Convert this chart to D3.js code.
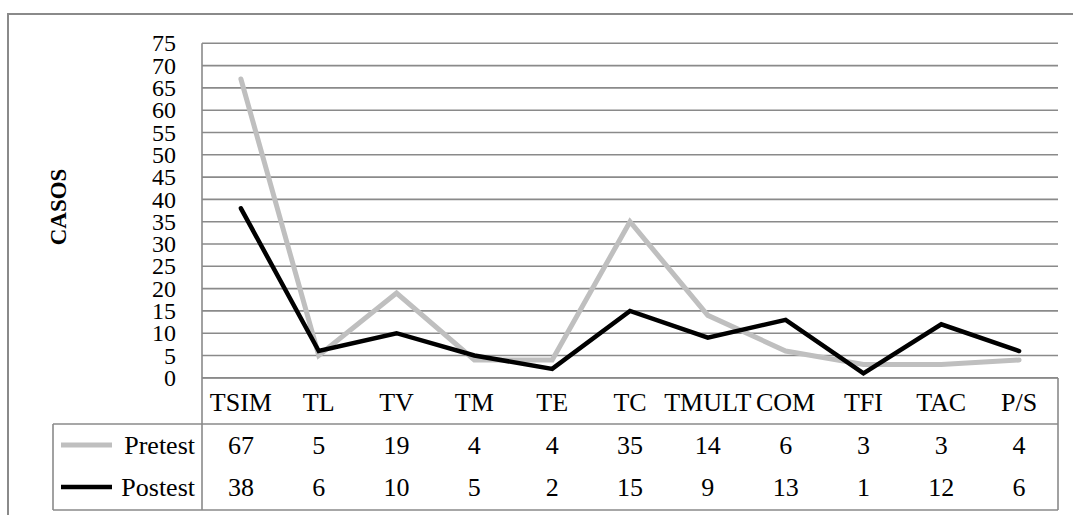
<!DOCTYPE html>
<html><head><meta charset="utf-8">
<script src="https://cdn.jsdelivr.net/npm/d3@7"></script>
<style>body{margin:0;background:#fff}svg{display:block}svg text{font-family:"Liberation Serif",Tinos,"Times New Roman",serif;fill:#000}</style>
</head><body>
<script>
const categories = ["TSIM","TL","TV","TM","TE","TC","TMULT","COM","TFI","TAC","P/S"];
const pretest = [67,5,19,4,4,35,14,6,3,3,4];
const postest = [38,6,10,5,2,15,9,13,1,12,6];
const yTicks = d3.range(0,80,5);
const seriesNames = ["Pretest","Postest"];
const seriesColors = ["#bfbfbf","#000000"];

const W=1073,H=515;
const FF="Liberation Serif";
const svg=d3.select("body").append("svg").attr("width",W).attr("height",H)
  .attr("font-family",FF);
const gridC="#8a8a8a";

svg.append("rect").attr("x",8).attr("y",14).attr("width",1080).attr("height",520)
  .attr("fill","none").attr("stroke",gridC).attr("stroke-width",2);

const L=202,R=1058,T=43.3,B=377.8;
const x=d3.scaleBand().domain(categories).range([L,R]);
const y=d3.scaleLinear().domain([0,75]).range([B,T]);

svg.append("g").selectAll("line").data(yTicks).join("line")
  .attr("x1",L).attr("x2",R).attr("y1",d=>y(d)).attr("y2",d=>y(d))
  .attr("stroke",gridC).attr("stroke-width",1.6);
svg.append("line").attr("x1",L).attr("x2",L).attr("y1",T).attr("y2",510).attr("stroke",gridC).attr("stroke-width",1.6);

svg.append("g").selectAll("text").data(yTicks).join("text")
  .attr("x",176).attr("y",d=>y(d)).attr("dy","0.34em").attr("text-anchor","end")
  .attr("font-size",24).text(d=>d);

svg.append("text").attr("transform","translate(66,207) rotate(-90)")
  .attr("text-anchor","middle").attr("font-weight","bold")
  .attr("font-size",23).text("CASOS");

const tl=[[L,378,R,378],[53,424,R,424],[53,510,R,510],[53,424,53,510],[R,378,R,510]];
svg.append("g").selectAll("line").data(tl).join("line")
  .attr("x1",d=>d[0]).attr("y1",d=>d[1]).attr("x2",d=>d[2]).attr("y2",d=>d[3])
  .attr("stroke",gridC).attr("stroke-width",1.6);

svg.append("g").selectAll("text").data(categories).join("text")
  .attr("x",d=>x(d)+x.bandwidth()/2).attr("y",402).attr("dy","0.35em")
  .attr("text-anchor","middle").attr("font-size",26).text(d=>d);

const series=[pretest,postest];
const line=d3.line().x((d,i)=>x(categories[i])+x.bandwidth()/2).y(d=>y(d));
series.forEach((s,k)=>{
  svg.append("path").datum(s).attr("d",line).attr("fill","none")
    .attr("stroke",seriesColors[k]).attr("stroke-width",k===0?5:4.5)
    .attr("stroke-linejoin","miter").attr("stroke-linecap","round");
});

const rowY=[445,487];
series.forEach((s,k)=>{
  svg.append("line").attr("x1",61).attr("x2",112).attr("y1",rowY[k]).attr("y2",rowY[k])
    .attr("stroke",seriesColors[k]).attr("stroke-width",k===0?5:4.5);
  svg.append("text").attr("x",195).attr("y",rowY[k]).attr("dy","0.35em").attr("text-anchor","end")
    .attr("font-size",26).text(seriesNames[k]);
  svg.append("g").selectAll("text").data(s).join("text")
    .attr("x",(d,i)=>x(categories[i])+x.bandwidth()/2).attr("y",rowY[k]).attr("dy","0.35em")
    .attr("text-anchor","middle").attr("font-size",26).text(d=>d);
});
</script>
</body></html>
